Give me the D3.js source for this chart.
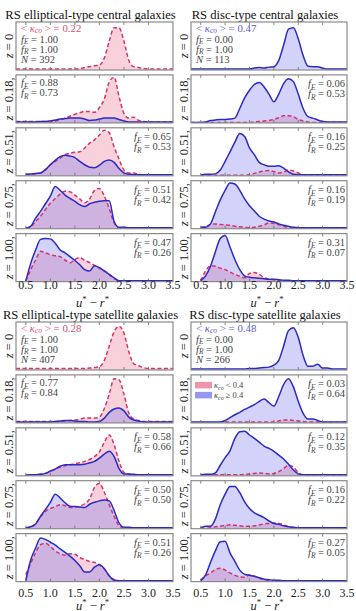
<!DOCTYPE html>
<html><head><meta charset="utf-8">
<script src="https://cdn.jsdelivr.net/npm/d3@7"></script>
<style>
body{margin:0;background:#fff}
svg{display:block}
text{font-family:"Liberation Serif","DejaVu Serif",serif}
</style>
</head><body>
<svg id="c" width="356" height="611"></svg>
<script>
// ---------- DATA ----------
const colorGrid = [0.3,0.4,0.5,0.6,0.7,0.8,0.9,1.0,1.1,1.2,1.3,1.4,1.5,1.6,1.7,1.8,1.9,2.0,2.1,2.2,2.3,2.4,2.5,2.6,2.7,2.8,2.9,3.0,3.1,3.2,3.3,3.4,3.5];
const xTicks = [0.5,1.0,1.5,2.0,2.5,3.0,3.5];
const xTickLabels = ["0.5","1.0","1.5","2.0","2.5","3.0","3.5"];
const zLabels = ["0","0.18,","0.51,","0.75,","1.00,"];
const titles = ["RS elliptical-type central galaxies","RS disc-type central galaxies","RS elliptical-type satellite galaxies","RS disc-type satellite galaxies"];
const kappaMean = ["0.22","0.47","0.28","0.48"];
const nGal = ["392","113","407","266"];
const n=null;

// red dashed: kappa_co < 0.4 ; blue solid: kappa_co >= 0.4 (fraction of panel height)
const ellCenRed = [
 [0.02,0.02,0.02,0.02,0.02,0.02,0.02,0.02,0.02,0.02,0.02,0.02,0.02,0.03,0.05,0.07,0.09,0.10,0.25,0.60,0.88,0.88,0.60,0.20,0.07,0.05,0.03,0.02,0.02,0.02,0.02,0.02,0.02],
 [0.03,0.03,0.03,0.03,0.03,0.03,0.03,0.03,0.04,0.06,0.10,0.14,0.18,0.21,0.24,0.24,0.22,0.32,0.50,0.85,0.95,0.55,0.20,0.10,0.12,0.05,0.03,0.02,0.02,0.02,0.02,0.02,0.02],
 [n,n,0.02,0.03,0.04,0.06,0.12,0.23,0.30,0.37,0.44,0.47,0.49,0.50,0.58,0.68,0.75,0.85,0.95,0.90,0.60,0.35,0.12,0.06,0.06,0.03,0.02,0.02,0.02,0.02,0.02,0.02,0.02],
 [n,n,0.01,0.04,0.15,0.26,0.40,0.53,0.63,0.72,0.78,0.77,0.70,0.62,0.54,0.62,0.80,0.84,0.68,0.42,0.12,0.02,0.02,0.02,0.02,0.02,0.02,0.02,0.02,0.02,0.02,0.02,0.02],
 [n,n,0.01,0.25,0.45,0.63,0.60,0.56,0.54,0.52,0.45,0.39,0.46,0.50,0.44,0.40,0.34,0.28,0.23,0.15,0.06,0.02,0.02,0.02,0.02,0.02,0.02,0.02,0.02,0.02,0.02,0.02,0.02]
];
const ellCenBlue = [
 [n,n,n,n,n,n,n,n,n,n,n,n,n,n,n,n,n,n,n,n,n,n,n,n,n,n,n,n,n,n,n,n,n],
 [0.02,0.02,0.02,0.02,0.02,0.03,0.03,0.04,0.06,0.08,0.09,0.10,0.10,0.10,0.08,0.05,0.06,0.08,0.10,0.10,0.10,0.07,0.04,0.02,0.02,0.02,0.02,0.02,0.02,0.02,0.02,0.02,0.02],
 [n,n,0.03,0.04,0.05,0.06,0.13,0.23,0.32,0.40,0.43,0.41,0.38,0.30,0.23,0.18,0.17,0.22,0.30,0.33,0.28,0.15,0.06,0.03,0.02,0.02,0.02,0.02,0.02,0.02,0.02,0.02,0.02],
 [n,n,0.01,0.05,0.22,0.36,0.52,0.68,0.88,0.80,0.70,0.63,0.57,0.50,0.46,0.52,0.55,0.57,0.58,0.58,0.15,0.03,0.03,0.02,0.02,0.02,0.02,0.02,0.02,0.02,0.02,0.02,0.02],
 [n,n,0.01,0.38,0.66,0.88,0.90,0.89,0.80,0.66,0.60,0.52,0.44,0.35,0.25,0.22,0.33,0.29,0.22,0.15,0.08,0.02,0.02,0.02,0.02,0.02,0.02,0.02,0.02,0.02,0.02,0.02,0.02]
];
const discCenRed = [
 [n,n,n,n,n,n,n,n,n,n,n,n,n,n,n,n,n,n,n,n,n,n,n,n,n,n,n,n,n,n,n,n,n],
 [0.01,0.01,0.01,0.01,0.01,0.01,0.01,0.01,0.01,0.01,0.01,0.01,0.01,0.02,0.03,0.04,0.05,0.07,0.11,0.15,0.15,0.13,0.07,0.04,0.02,0.01,0.01,0.01,0.01,0.01,0.01,0.01,0.01],
 [n,n,0.01,0.01,0.01,0.01,0.01,0.01,0.01,0.01,0.01,0.01,0.02,0.05,0.08,0.10,0.11,0.09,0.06,0.08,0.12,0.10,0.06,0.02,0.01,0.01,0.01,0.01,0.01,0.01,0.01,0.01,0.01],
 [n,n,0.02,0.04,0.09,0.10,0.09,0.08,0.07,0.05,0.04,0.03,0.02,0.03,0.05,0.08,0.12,0.11,0.08,0.05,0.03,0.02,0.01,0.01,0.01,0.01,0.01,0.01,0.01,0.01,0.01,0.01,0.01],
 [n,n,0.02,0.22,0.33,0.32,0.28,0.25,0.20,0.15,0.11,0.08,0.17,0.19,0.15,0.08,0.05,0.04,0.03,0.02,0.01,0.01,0.01,0.01,0.01,0.01,0.01,0.01,0.01,0.01,0.01,0.01,0.01]
];
const discCenBlue = [
 [0.02,0.02,0.02,0.02,0.02,0.02,0.02,0.02,0.02,0.02,0.02,0.02,0.02,0.04,0.05,0.04,0.06,0.07,0.20,0.52,0.85,0.88,0.65,0.30,0.08,0.07,0.07,0.04,0.02,0.02,0.02,0.02,0.02],
 [0.01,0.01,0.01,0.02,0.05,0.06,0.07,0.07,0.08,0.10,0.30,0.52,0.68,0.80,0.84,0.75,0.60,0.44,0.60,0.82,0.92,0.86,0.60,0.30,0.13,0.10,0.06,0.03,0.02,0.02,0.02,0.02,0.02],
 [n,n,0.01,0.03,0.03,0.04,0.12,0.30,0.50,0.70,0.88,0.82,0.58,0.44,0.28,0.23,0.20,0.20,0.21,0.16,0.08,0.03,0.02,0.02,0.02,0.02,0.02,0.02,0.02,0.02,0.02,0.02,0.02],
 [n,n,0.03,0.03,0.10,0.35,0.60,0.80,0.95,0.93,0.80,0.62,0.48,0.37,0.26,0.20,0.16,0.14,0.10,0.07,0.05,0.03,0.02,0.02,0.02,0.02,0.02,0.02,0.02,0.02,0.02,0.02,0.02],
 [n,n,0.02,0.12,0.32,0.62,0.90,0.96,0.72,0.46,0.25,0.12,0.09,0.08,0.07,0.06,0.05,0.05,0.04,0.03,0.03,0.02,0.02,0.02,0.02,0.02,0.02,0.02,0.02,0.02,0.02,0.02,0.02]
];
const ellSatRed = [
 [0.03,0.03,0.03,0.03,0.03,0.03,0.03,0.03,0.03,0.03,0.03,0.03,0.03,0.03,0.03,0.04,0.05,0.07,0.20,0.50,0.80,0.91,0.77,0.38,0.13,0.09,0.05,0.03,0.03,0.03,0.03,0.03,0.03],
 [0.03,0.03,0.03,0.03,0.03,0.03,0.03,0.03,0.03,0.03,0.04,0.05,0.06,0.08,0.10,0.10,0.10,0.12,0.30,0.60,0.92,0.90,0.60,0.20,0.08,0.05,0.03,0.03,0.03,0.03,0.03,0.03,0.03],
 [n,n,0.01,0.02,0.02,0.03,0.05,0.09,0.14,0.18,0.21,0.23,0.25,0.27,0.30,0.34,0.40,0.50,0.70,0.85,0.65,0.30,0.07,0.03,0.02,0.02,0.02,0.02,0.02,0.02,0.02,0.02,0.02],
 [n,n,0.01,0.03,0.10,0.25,0.36,0.42,0.46,0.50,0.48,0.44,0.45,0.47,0.52,0.62,0.86,0.94,0.76,0.50,0.26,0.06,0.02,0.02,0.02,0.02,0.02,0.02,0.02,0.02,0.02,0.02,0.02],
 [n,n,0.15,0.38,0.60,0.77,0.80,0.73,0.64,0.58,0.55,0.58,0.57,0.50,0.46,0.42,0.40,0.35,0.26,0.12,0.04,0.02,0.02,0.02,0.02,0.02,0.02,0.02,0.02,0.02,0.02,0.02,0.02]
];
const ellSatBlue = [
 [n,n,n,n,n,n,n,n,n,n,n,n,n,n,n,n,n,n,n,n,n,n,n,n,n,n,n,n,n,n,n,n,n],
 [0.02,0.02,0.02,0.02,0.02,0.02,0.02,0.02,0.03,0.04,0.05,0.05,0.04,0.03,0.03,0.02,0.02,0.03,0.10,0.22,0.29,0.31,0.25,0.12,0.06,0.04,0.02,0.02,0.02,0.02,0.02,0.02,0.02],
 [n,n,0.01,0.02,0.02,0.03,0.05,0.10,0.14,0.20,0.23,0.23,0.23,0.23,0.24,0.27,0.30,0.37,0.45,0.51,0.40,0.15,0.04,0.04,0.03,0.02,0.02,0.02,0.02,0.02,0.02,0.02,0.02],
 [n,n,0.02,0.04,0.10,0.26,0.40,0.55,0.72,0.64,0.54,0.47,0.46,0.45,0.44,0.51,0.55,0.58,0.60,0.58,0.38,0.12,0.03,0.03,0.02,0.02,0.02,0.02,0.02,0.02,0.02,0.02,0.02],
 [n,n,0.02,0.45,0.70,0.91,0.88,0.82,0.76,0.68,0.61,0.53,0.44,0.33,0.20,0.20,0.30,0.35,0.27,0.12,0.03,0.02,0.02,0.02,0.02,0.02,0.02,0.02,0.02,0.02,0.02,0.02,0.02]
];
const discSatRed = [
 [n,n,n,n,n,n,n,n,n,n,n,n,n,n,n,n,n,n,n,n,n,n,n,n,n,n,n,n,n,n,n,n,n],
 [n,n,n,n,n,n,n,0.02,0.02,0.02,0.02,0.02,0.02,0.02,0.02,0.02,0.02,0.02,0.04,0.06,0.06,0.05,0.04,0.03,0.02,0.02,0.02,0.01,0.01,0.01,0.01,0.01,0.01],
 [n,n,0.02,0.02,0.02,0.02,0.02,0.02,0.02,0.02,0.02,0.03,0.04,0.05,0.06,0.05,0.04,0.05,0.09,0.15,0.22,0.18,0.07,0.02,0.01,0.01,0.01,0.01,0.01,0.01,0.01,0.01,0.01],
 [n,n,0.01,0.01,0.02,0.04,0.05,0.07,0.08,0.07,0.06,0.05,0.05,0.06,0.08,0.10,0.11,0.12,0.11,0.08,0.04,0.02,0.01,0.01,0.01,0.01,0.01,0.01,0.01,0.01,0.01,0.01,0.01],
 [n,n,0.03,0.12,0.18,0.25,0.28,0.24,0.18,0.13,0.10,0.09,0.14,0.11,0.07,0.04,0.03,0.02,0.01,0.01,0.01,0.01,0.01,0.01,0.01,0.01,0.01,0.01,0.01,0.01,0.01,0.01,0.01]
];
const discSatBlue = [
 [0.02,0.02,0.02,0.02,0.02,0.02,0.02,0.02,0.02,0.02,0.02,0.02,0.03,0.03,0.04,0.05,0.06,0.10,0.20,0.50,0.82,0.88,0.68,0.30,0.08,0.08,0.12,0.04,0.04,0.02,0.02,0.02,0.02],
 [0.02,0.02,0.02,0.02,0.02,0.02,0.02,0.05,0.11,0.17,0.22,0.28,0.33,0.38,0.45,0.50,0.42,0.35,0.55,0.80,0.92,0.75,0.45,0.20,0.08,0.08,0.05,0.02,0.02,0.02,0.02,0.02,0.02],
 [n,n,0.02,0.03,0.03,0.06,0.22,0.38,0.52,0.78,0.92,0.93,0.85,0.78,0.70,0.62,0.57,0.51,0.43,0.35,0.24,0.12,0.04,0.02,0.02,0.02,0.02,0.02,0.02,0.02,0.02,0.02,0.02],
 [n,n,0.02,0.05,0.05,0.20,0.50,0.72,0.88,0.88,0.75,0.56,0.42,0.33,0.28,0.23,0.16,0.11,0.09,0.06,0.04,0.03,0.02,0.02,0.02,0.02,0.02,0.02,0.02,0.02,0.02,0.02,0.02],
 [n,n,0.02,0.14,0.40,0.64,0.83,0.84,0.60,0.42,0.24,0.15,0.13,0.11,0.08,0.05,0.04,0.03,0.03,0.02,0.02,0.02,0.02,0.02,0.02,0.02,0.02,0.02,0.02,0.02,0.02,0.02,0.02]
];
const fEllCen = [["1.00","1.00"],["0.88","0.73"],["0.65","0.53"],["0.51","0.42"],["0.47","0.26"]];
const fDiscCen = [["0.00","1.00"],["0.06","0.53"],["0.16","0.25"],["0.16","0.19"],["0.31","0.07"]];
const fEllSat = [["1.00","1.00"],["0.77","0.84"],["0.58","0.66"],["0.50","0.50"],["0.51","0.26"]];
const fDiscSat = [["0.00","1.00"],["0.03","0.64"],["0.12","0.35"],["0.16","0.22"],["0.27","0.05"]];
const legendLabels = [" < 0.4"," \u2265 0.4"];

// ---------- STYLE / LAYOUT ----------
const RED = "#d6336a", REDFILL = "#ec6f8e", BLUE = "#2a2ac6", BLUEFILL = "#7474ee";
const KRED = "#dd4f78", KBLUE = "#5b5bdc";
const PH = 48, PITCH = 52.9;
const groups = [
  {title:titles[0], x0:16, x1:173, top:22, red:ellCenRed, blue:ellCenBlue, f:fEllCen, k:kappaMean[0], N:nGal[0], kc:KRED, align:["L","L","R","R","R"], tickY:288.5, labY:306.5},
  {title:titles[1], x0:191, x1:347, top:22, red:discCenRed, blue:discCenBlue, f:fDiscCen, k:kappaMean[1], N:nGal[1], kc:KBLUE, align:["L","R","R","R","R"], tickY:288.5, labY:306.5},
  {title:titles[2], x0:16, x1:173, top:322, red:ellSatRed, blue:ellSatBlue, f:fEllSat, k:kappaMean[2], N:nGal[2], kc:KRED, align:["L","L","R","R","R"], tickY:596.5, labY:609.5, titleY:319},
  {title:titles[3], x0:191, x1:347, top:322, red:discSatRed, blue:discSatBlue, f:fDiscSat, k:kappaMean[3], N:nGal[3], kc:KBLUE, align:["L","R","R","R","R"], tickY:596.5, labY:609.5, titleY:319, legend:true}
];

const svg = d3.select("#c");
const defs = svg.append("defs");
let clipId = 0;

function mathText(g, x, y, anchor, parts, size, color, subShift){
  const t = g.append("text").attr("x",x).attr("y",y).attr("text-anchor",anchor)
    .attr("font-size",size).attr("fill",color);
  let shift = 0;
  const ss = subShift==null ? 0.22 : subShift;
  parts.forEach(p=>{
    const ts = t.append("tspan").text(p.t);
    if(p.it) ts.attr("font-style","italic");
    let target = p.sub ? size*ss : (p.sup ? -size*0.4 : 0);
    if(p.sub || p.sup) ts.attr("font-size", size*0.7);
    if(target !== shift){ ts.attr("dy", target-shift); shift = target; }
  });
  return t;
}
function fParts(letter, val){ return [{t:"f",it:true},{t:letter,it:true,sub:true},{t:" = "+val}]; }

groups.forEach(G=>{
  const x = d3.scaleLinear().domain([0.3,3.5]).range([G.x0,G.x1]);
  const gg = svg.append("g");
  gg.append("text").attr("x",(G.x0+G.x1)/2 - 4).attr("y",G.titleY||18.5).attr("text-anchor","middle")
    .attr("font-size",12.6).attr("fill","#111").text(G.title);

  for(let i=0;i<5;i++){
    const top = G.top + i*PITCH;
    const y = d3.scaleLinear().domain([0,1]).range([top+PH, top]);
    const id = "clip"+(clipId++);
    defs.append("clipPath").attr("id",id).append("rect")
      .attr("x",G.x0).attr("y",top).attr("width",G.x1-G.x0).attr("height",PH);
    const pg = gg.append("g");
    const pc = pg.append("g").attr("clip-path","url(#"+id+")");
    const mk = arr => colorGrid.map((c,j)=>[c,arr[j]]);
    const red = mk(G.red[i]), blue = mk(G.blue[i]);
    const area = d3.area().defined(d=>d[1]!=null).x(d=>x(d[0])).y0(y(0)).y1(d=>y(d[1])).curve(d3.curveMonotoneX);
    const line = d3.line().defined(d=>d[1]!=null).x(d=>x(d[0])).y(d=>y(d[1])).curve(d3.curveMonotoneX);
    pc.append("path").attr("d",area(red)).attr("fill",REDFILL).attr("fill-opacity",0.32);
    pc.append("path").attr("d",area(blue)).attr("fill",BLUEFILL).attr("fill-opacity",0.32);
    pc.append("path").attr("d",line(red)).attr("fill","none").attr("stroke",RED).attr("stroke-width",1.5).attr("stroke-dasharray","4,2.5");
    pc.append("path").attr("d",line(blue)).attr("fill","none").attr("stroke",BLUE).attr("stroke-width",1.5);

    // inward ticks
    pg.selectAll(null).data(xTicks.filter(v=>v<3.5)).enter().append("line")
      .attr("x1",d=>x(d)).attr("x2",d=>x(d)).attr("y1",top+PH).attr("y2",top+PH-3)
      .attr("stroke","#666").attr("stroke-width",0.8);
    pg.selectAll(null).data(xTicks.filter(v=>v<3.5)).enter().append("line")
      .attr("x1",d=>x(d)).attr("x2",d=>x(d)).attr("y1",top).attr("y2",top+3)
      .attr("stroke","#666").attr("stroke-width",0.8);
    pg.append("rect").attr("x",G.x0).attr("y",top).attr("width",G.x1-G.x0).attr("height",PH)
      .attr("fill","none").attr("stroke","#8a8a8a").attr("stroke-width",1.2);

    // z label
    const zl = pg.append("text").attr("transform",`translate(${G.x0-3.5},${top+PH/2}) rotate(-90)`)
      .attr("text-anchor","middle").attr("font-size",12.5).attr("fill","#222");
    zl.append("tspan").attr("font-style","italic").text("z");
    zl.append("tspan").text(" = "+zLabels[i]);

    const ac = "#444";
    const fs = 10.5;
    if(i===0){
      const lx = G.x0+5;
      mathText(pg, lx, top+9.8, "start", [{t:"< "},{t:"\u03ba",it:true},{t:"co",it:true,sub:true},{t:" > = "+G.k}], 10.8, G.kc, 0.12);
      mathText(pg, lx, top+21, "start", fParts("E",G.f[i][0]), fs, ac, 0.12);
      mathText(pg, lx, top+30.6, "start", fParts("R",G.f[i][1]), fs, ac, 0.1);
      mathText(pg, lx, top+40.8, "start", [{t:"N",it:true},{t:" = "+G.N}], fs, ac);
    } else if(G.align[i]==="L"){
      const lx = G.x0+5;
      mathText(pg, lx, top+11.5, "start", fParts("E",G.f[i][0]), fs, ac);
      mathText(pg, lx, top+21.5, "start", fParts("R",G.f[i][1]), fs, ac);
    } else {
      const rx = G.x1-2;
      mathText(pg, rx, top+12.5, "end", fParts("E",G.f[i][0]), fs, ac);
      mathText(pg, rx, top+22.5, "end", fParts("R",G.f[i][1]), fs, ac);
    }
    if(G.legend && i===1){
      const lx = G.x0+4;
      [[REDFILL,legendLabels[0]],[BLUEFILL,legendLabels[1]]].forEach((L,k)=>{
        pg.append("rect").attr("x",lx).attr("y",top+7+k*10).attr("width",17).attr("height",6.5)
          .attr("fill",L[0]).attr("fill-opacity",0.75);
        mathText(pg, lx+19, top+13.5+k*10, "start", [{t:"\u03ba",it:true},{t:"co",it:true,sub:true},{t:L[1]}], 8.5, "#444");
      });
    }
  }
  // x tick labels
  gg.selectAll(null).data(xTicks).enter().append("text")
    .attr("x",d=>x(d)).attr("y",G.tickY).attr("text-anchor","middle")
    .attr("font-size",12).attr("fill","#222").text((d,j)=>xTickLabels[j]);
  mathText(gg, (G.x0+G.x1)/2 - 2, G.labY, "middle",
    [{t:"u",it:true},{t:"*",sup:true},{t:" \u2212 "},{t:"r",it:true},{t:"*",sup:true}], 12.5, "#222");
});
</script>
</body></html>
